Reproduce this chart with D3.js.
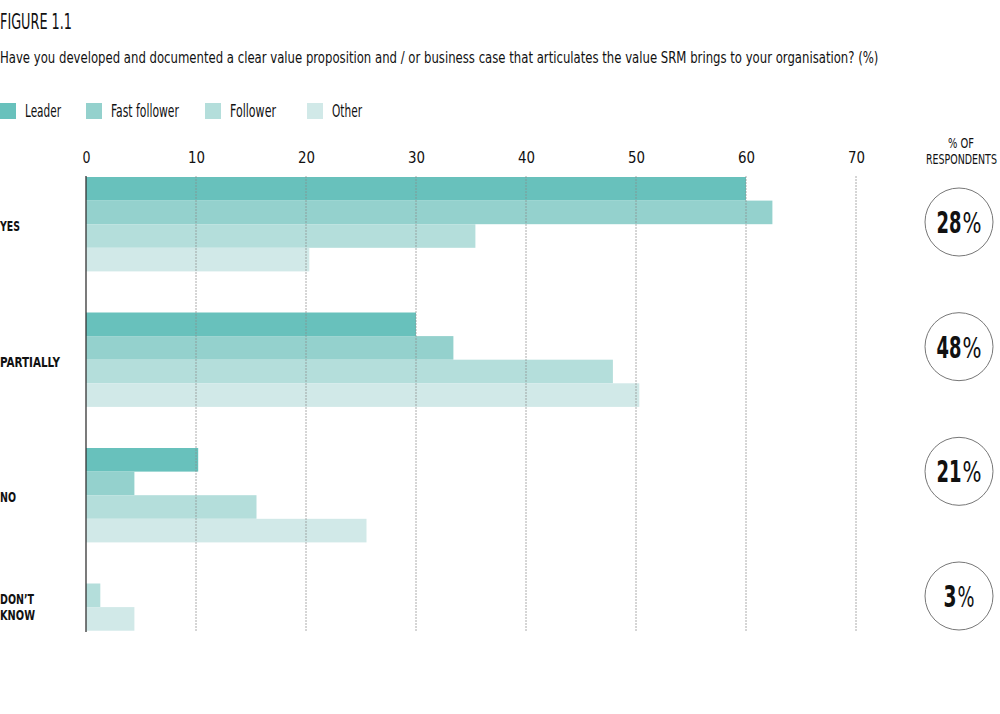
<!DOCTYPE html>
<html>
<head>
<meta charset="utf-8">
<script src="https://cdn.jsdelivr.net/npm/d3@7"></script>
<style>
  body { margin: 0; background: #fff; }
  svg { display: block; }
  text { font-family: "Liberation Sans Narrow", "DejaVu Sans Condensed", "Open Sans", sans-serif; font-stretch: condensed; }
</style>
</head>
<body>
<svg id="chart" width="1000" height="714"></svg>
<script>
const categories = ["YES", "PARTIALLY", "NO", "DON\u2019T KNOW"];
const seriesNames = ["Leader", "Fast follower", "Follower", "Other"];
const leaderValues = [60, 30, 10.2, null];
const fastFollowerValues = [62.4, 33.4, 4.4, null];
const followerValues = [35.4, 47.9, 15.5, 1.3];
const otherValues = [20.3, 50.3, 25.5, 4.4];
const respondentShares = [28, 48, 21, 3];
const xTicks = [0, 10, 20, 30, 40, 50, 60, 70];
const colors = ["#68c1bc", "#94d1cd", "#b4dedb", "#d1e9e8"];

const seriesValues = [leaderValues, fastFollowerValues, followerValues, otherValues];

const svg = d3.select("#chart");

// Draw a text at (x, y) squeezed horizontally to width w (left-aligned)
function fitText(parent, x, y, w, str, size, weight) {
  const t = parent.append("text").attr("x", 0).attr("y", 0)
    .attr("font-size", size).attr("font-weight", weight || "normal").attr("fill", "#111").text(str);
  const natural = t.node().getComputedTextLength();
  const s = natural > 0 ? w / natural : 1;
  t.attr("transform", `translate(${x},${y}) scale(${s},1)`);
  return t;
}

// Titles
fitText(svg, 0, 29, 72, "FIGURE 1.1", 21);
fitText(svg, 0, 63, 879, "Have you developed and documented a clear value proposition and / or business case that articulates the value SRM brings to your organisation? (%)", 16.5);

// Legend
const legendX = [0, 86, 205, 307];
const legendW = [36, 68, 46, 30];
const legend = svg.append("g");
seriesNames.forEach((name, i) => {
  legend.append("rect").attr("x", legendX[i]).attr("y", 103).attr("width", 16).attr("height", 16).attr("fill", colors[i]);
  fitText(legend, legendX[i] + 25, 117, legendW[i], name, 17);
});

// Scales
const x = d3.scaleLinear().domain([0, 70]).range([86, 856]);
const barH = 23.6;
const y = d3.scaleBand().domain(categories).range([177, 177 + 135.5 * 4]).paddingInner(0).paddingOuter(0);

// Axis tick labels
const axis = d3.axisTop(x).tickValues(xTicks).tickSize(0).tickFormat(d3.format("d"));
const axisG = svg.append("g").attr("transform", "translate(0,166)").call(axis);
axisG.select(".domain").remove();
axisG.selectAll("text").attr("font-size", 16).attr("fill", "#111")
  .style("font-family", "'Liberation Sans Narrow', 'DejaVu Sans Condensed', sans-serif")
  .attr("textLength", d => d < 10 ? 8 : 17).attr("lengthAdjust", "spacingAndGlyphs");

// Bars
const barsG = svg.append("g");
const labelW = { "YES": 20, "PARTIALLY": 60, "NO": 16, "DON\u2019T": 34, "KNOW": 35 };
categories.forEach((cat, ci) => {
  const present = seriesNames.map((s, si) => ({ s, si, v: seriesValues[si][ci] })).filter(d => d.v !== null);
  const inner = d3.scaleBand().domain(present.map(d => d.s)).range([0, barH * present.length]);
  barsG.selectAll(null).data(present).enter().append("rect")
    .attr("x", x(0))
    .attr("y", d => y(cat) + inner(d.s))
    .attr("width", d => x(d.v) - x(0))
    .attr("height", inner.bandwidth())
    .attr("fill", d => colors[d.si]);
  const parts = cat.split(" ");
  const centerY = y(cat) + (barH * present.length) / 2;
  parts.forEach((p, pi) => {
    const yy = parts.length === 1 ? centerY + 7 : centerY - 3 + pi * 16;
    fitText(svg, 0, yy, labelW[p], p, 14.5, "bold");
  });
});

// Gridlines
const gridG = svg.append("g");
gridG.selectAll("line").data(xTicks.filter(d => d > 0)).enter().append("line")
  .attr("x1", d => x(d)).attr("x2", d => x(d))
  .attr("y1", 176).attr("y2", 632)
  .attr("stroke", "#8a8a8a").attr("stroke-width", 1).attr("stroke-dasharray", "2,1").attr("opacity", 0.7);
svg.append("line").attr("x1", x(0)).attr("x2", x(0)).attr("y1", 176).attr("y2", 632)
  .attr("stroke", "#333").attr("stroke-width", 1.3);

// Respondents column
fitText(svg, 948, 148, 26, "% OF", 14.5);
fitText(svg, 926, 164, 71, "RESPONDENTS", 14.5);

const cy = d3.scalePoint().domain(categories).range([222, 596]);
categories.forEach((cat, i) => {
  svg.append("circle").attr("cx", 959).attr("cy", cy(cat)).attr("r", 34)
    .attr("fill", "#fff").attr("stroke", "#777").attr("stroke-width", 1);
  const twoDigit = String(respondentShares[i]).length > 1;
  const numW = twoDigit ? 25 : 13;
  const pctW = twoDigit ? 19 : 17;
  const start = 959 - (numW + pctW + 1) / 2;
  fitText(svg, start, cy(cat) + 11, numW, String(respondentShares[i]), 31, "bold");
  fitText(svg, start + numW + 1, cy(cat) + 11, pctW, "%", 29);
});
</script>
</body>
</html>
